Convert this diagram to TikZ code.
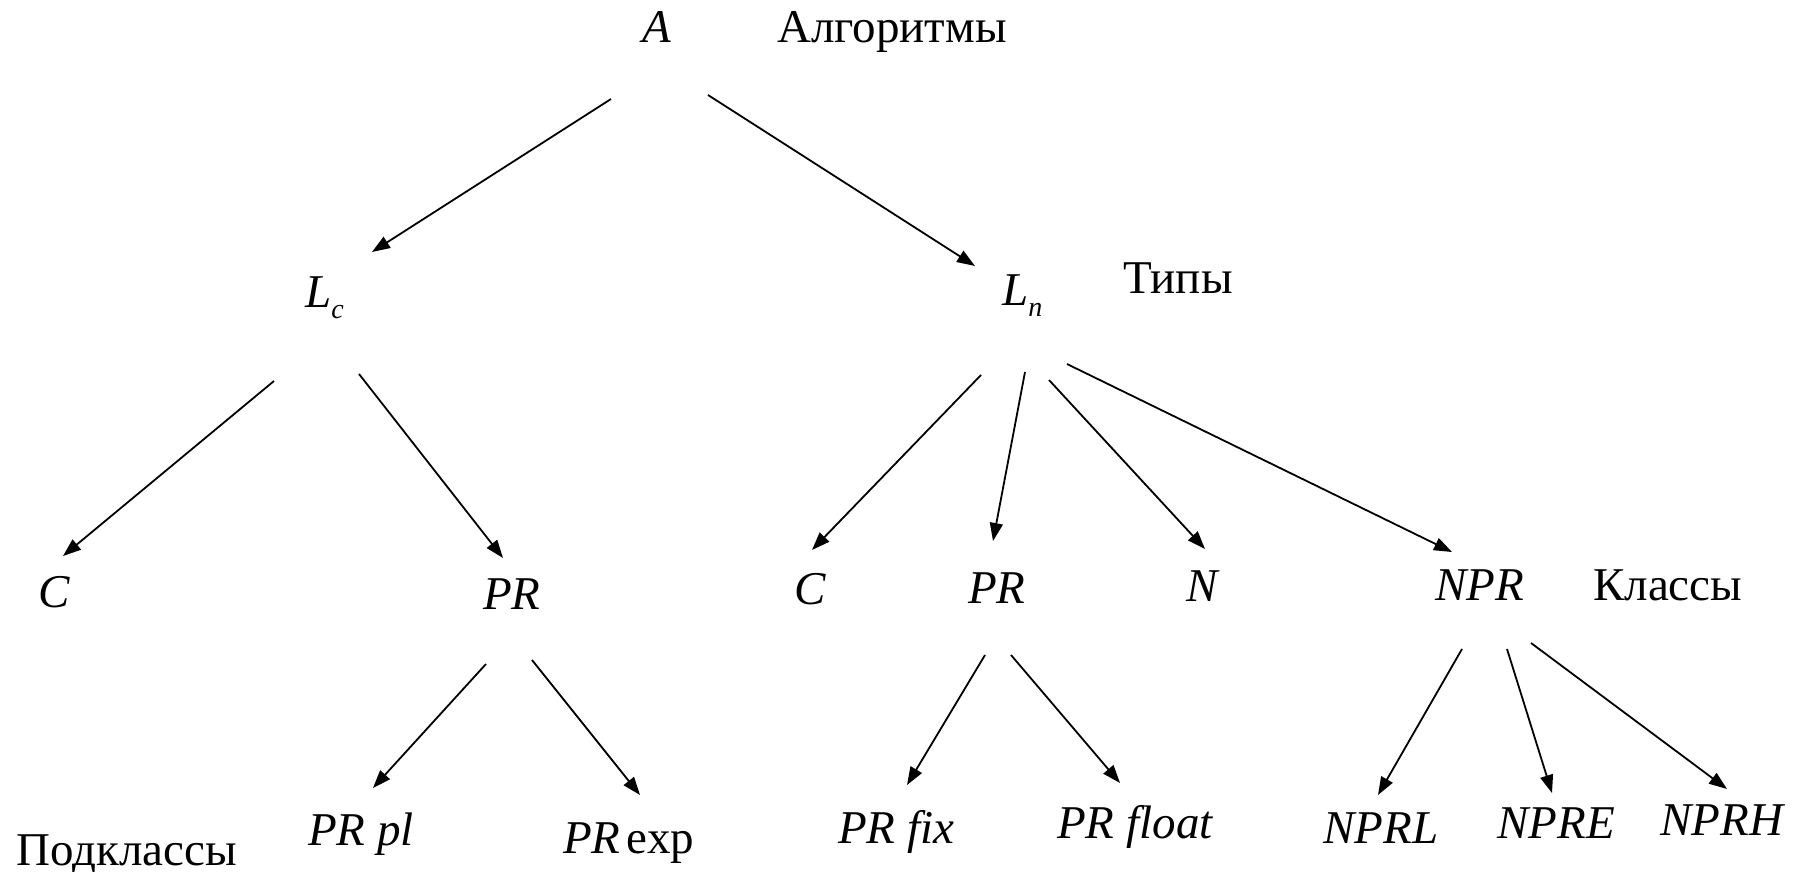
\documentclass[tikz,border=0pt]{standalone}
\usepackage{fontspec}
\setmainfont{Liberation Serif}
\usetikzlibrary{arrows.meta}
\begin{document}
\begin{tikzpicture}[x=1pt,y=-1pt,
  lbl/.style={inner sep=0pt, anchor=base west, font=\fontsize{47}{50}\selectfont},
  it/.style={lbl, font=\fontsize{47}{50}\selectfont\itshape},
  arr/.style={line width=1.8pt, -{Triangle[length=18pt,width=13pt]}}]
\useasboundingbox (0,0) rectangle (1804,872);

% level 0
\node[it]  (A)    at (642,43)  {A};
\node[lbl] (algo) at (777,43)  {Алгоритмы};

% level 1: types
\node[it]  (Lc)   at (305,307) {L\raisebox{-11pt}{\fontsize{28}{28}\selectfont c}};
\node[it]  (Ln)   at (1002,305){L\raisebox{-11pt}{\fontsize{28}{28}\selectfont n}};
\node[lbl] (tipy) at (1123,293){Типы};

% level 2: classes
\node[it]  (C1)   at (38,607)  {C};
\node[it]  (PR1)  at (483,609) {PR};
\node[it]  (C2)   at (794,604) {C};
\node[it]  (PR2)  at (968,603) {PR};
\node[it]  (N)    at (1186,601){N};
\node[it]  (NPR)  at (1435,600){NPR};
\node[lbl] (kl)   at (1593,600){Классы};

% level 3: subclasses
\node[lbl] (podkl)  at (16,865)  {Подклассы};
\node[it]  (PRpl)   at (308,845) {PR pl};
\node[lbl] (PRexp)  at (563,853) {\textit{PR}\hspace{6pt}exp};
\node[it]  (PRfix)  at (838,843) {PR fix};
\node[it]  (PRfloat)at (1057,838){PR float};
\node[it]  (NPRL)   at (1323,843){NPRL};
\node[it]  (NPRE)   at (1497,838){NPRE};
\node[it]  (NPRH)   at (1660,835){NPRH};

% connectors
\draw[arr] ([shift={(-31,56)}]A.base west) -- ([shift={(67,-55)}]Lc.base west);
\draw[arr] ([shift={(66,52)}]A.base west)  -- ([shift={(-27,-39)}]Ln.base west);

\draw[arr] ([shift={(-31,74)}]Lc.base west) -- ([shift={(25,-51)}]C1.base west);
\draw[arr] ([shift={(54,67)}]Lc.base west)  -- ([shift={(20,-51)}]PR1.base west);

\draw[arr] ([shift={(-21,70)}]Ln.base west) -- ([shift={(18,-54)}]C2.base west);
\draw[arr] ([shift={(23,67)}]Ln.base west)  -- ([shift={(25,-62)}]PR2.base west);
\draw[arr] ([shift={(47,75)}]Ln.base west)  -- ([shift={(19,-52)}]N.base west);
\draw[arr] ([shift={(65,59)}]Ln.base west)  -- ([shift={(17,-48)}]NPR.base west);

\draw[arr] ([shift={(3,55)}]PR1.base west)  -- ([shift={(65,-57)}]PRpl.base west);
\draw[arr] ([shift={(49,51)}]PR1.base west) -- ([shift={(77,-58)}]PRexp.base west);

\draw[arr] ([shift={(17,52)}]PR2.base west) -- ([shift={(69,-58)}]PRfix.base west);
\draw[arr] ([shift={(43,52)}]PR2.base west) -- ([shift={(63,-55)}]PRfloat.base west);

\draw[arr] ([shift={(27,49)}]NPR.base west) -- ([shift={(55,-48)}]NPRL.base west);
\draw[arr] ([shift={(72,49)}]NPR.base west) -- ([shift={(55,-45)}]NPRE.base west);
\draw[arr] ([shift={(96,43)}]NPR.base west) -- ([shift={(67,-46)}]NPRH.base west);
\end{tikzpicture}
\end{document}
